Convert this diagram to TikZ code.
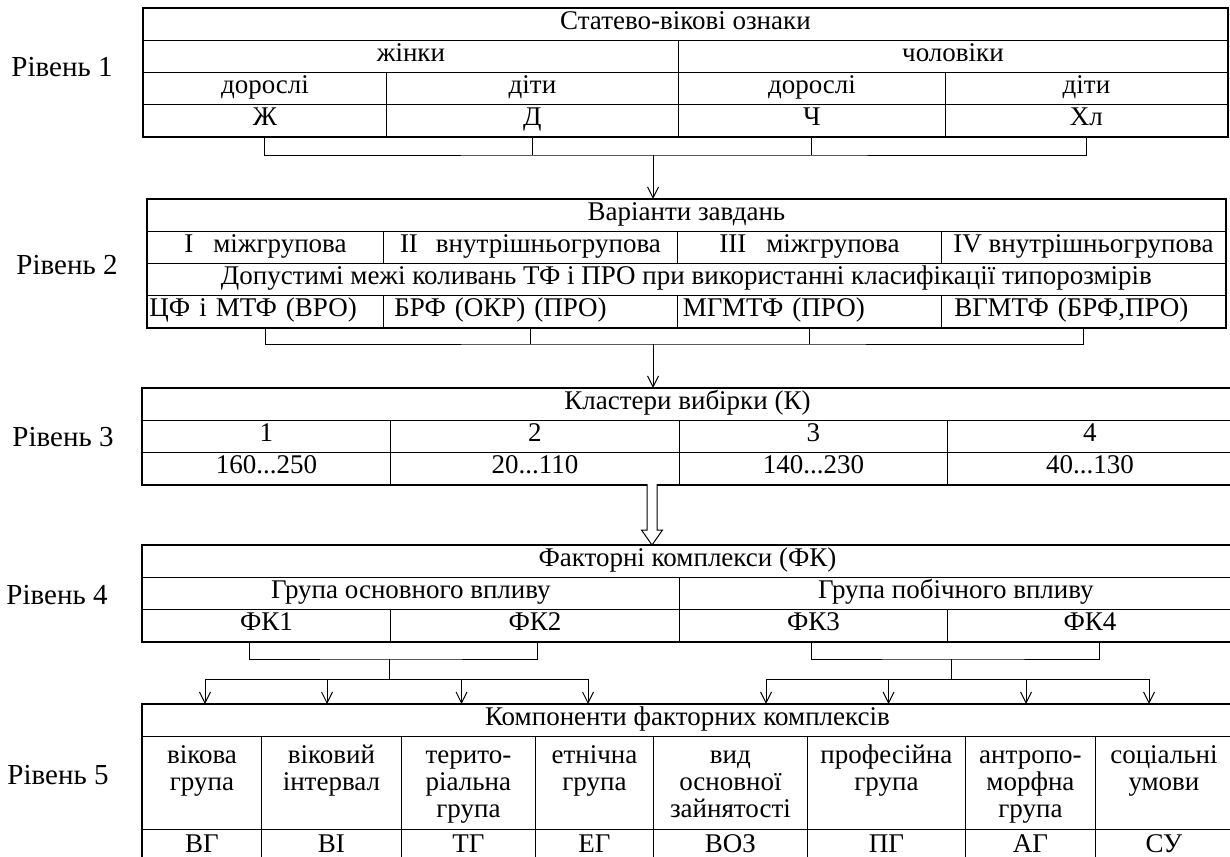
\documentclass[tikz,border=0pt]{standalone}
\usepackage{fontspec}
\setmainfont{Liberation Serif}
\usetikzlibrary{arrows.meta}

\newcommand{\tallbox}[2]{\parbox[c][93pt][t]{#1}{\centering\rule{0pt}{27pt}#2}}

\tikzset{
	cell/.style={shape=rectangle, draw=black, line width=0.9pt, anchor=north west, inner sep=0pt, minimum height=32pt, text height=18pt, text depth=8pt},
	lcell/.style 2 args={cell, align=left, inner xsep=#2, text width=#1},
	tall/.style={shape=rectangle, draw=black, line width=0.9pt, anchor=north west, inner sep=0pt, minimum height=93pt},
	frame/.style={draw=black, line width=2pt},
	conn/.style={draw=black, line width=1pt},
	arr/.style={conn, -{Straight Barb[length=11pt,width=11pt]}},
	hollow/.style={draw=black, line width=1pt, fill=white},
	lvl/.style={font=\fontsize{29}{31}\selectfont}
}

\begin{document}
\begin{tikzpicture}[x=1pt, y=-1pt, font=\fontsize{27}{27}\selectfont]
			\useasboundingbox (0,0) rectangle (1230,856);
			%Level labels:
			\path
				(62,67) node[lvl] (lv1) {Рівень 1}
				(67,265) node[lvl] (lv2) {Рівень 2}
				(63,437) node[lvl] (lv3) {Рівень 3}
				(57,595) node[lvl] (lv4) {Рівень 4}
				(58,775) node[lvl] (lv5) {Рівень 5};
			%Level 1:
			\path
				(143,8) node[cell, minimum width=1084pt] (ozn) {Статево-вікові ознаки}
				(143,40) node[cell, minimum width=535pt] (zhin) {жінки}
				(678,40) node[cell, minimum width=549pt] (chol) {чоловіки}
				(143,72) node[cell, minimum width=243pt] (dor1) {дорослі}
				(386,72) node[cell, minimum width=292pt] (dit1) {діти}
				(678,72) node[cell, minimum width=267pt] (dor2) {дорослі}
				(945,72) node[cell, minimum width=282pt] (dit2) {діти}
				(143,104) node[cell, minimum width=243pt] (zh) {Ж}
				(386,104) node[cell, minimum width=292pt] (d) {Д}
				(678,104) node[cell, minimum width=267pt] (ch) {Ч}
				(945,104) node[cell, minimum width=282pt] (khl) {Хл};
			\draw[frame] (ozn.north west) rectangle (khl.south east);
			%Level 2:
			\path
				(147,199) node[cell, minimum width=1078pt] (var) {Варіанти завдань}
				(147,231) node[cell, minimum width=236pt] (v1) {I\hspace{20pt}міжгрупова}
				(383,231) node[cell, minimum width=294pt] (v2) {II\hspace{18pt}внутрішньогрупова}
				(677,231) node[cell, minimum width=264pt] (v3) {III\hspace{20pt}міжгрупова}
				(941,231) node[cell, minimum width=284pt] (v4) {IV внутрішньогрупова}
				(147,263) node[cell, minimum width=1078pt] (dop) {Допустимі межі коливань ТФ і ПРО при використанні класифікації типорозмірів}
				(147,295) node[lcell={232pt}{2pt}] (m1) {ЦФ і МТФ (ВРО)}
				(383,295) node[lcell={272pt}{11pt}] (m2) {БРФ (ОКР) (ПРО)}
				(677,295) node[lcell={253pt}{5.5pt}] (m3) {МГМТФ (ПРО)}
				(941,295) node[lcell={258pt}{13pt}] (m4) {ВГМТФ (БРФ,ПРО)};
			\draw[frame] (var.north west) rectangle (m4.south east);
			%Level 3:
			\path
				(142,388) node[cell, minimum width=1090pt] (kl) {Кластери вибірки (К)}
				(142,420) node[cell, minimum width=248pt] (k1) {1}
				(390,420) node[cell, minimum width=289pt] (k2) {2}
				(679,420) node[cell, minimum width=268pt] (k3) {3}
				(947,420) node[cell, minimum width=285pt] (k4) {4}
				(142,452) node[cell, minimum width=248pt] (r1) {160...250}
				(390,452) node[cell, minimum width=289pt] (r2) {20...110}
				(679,452) node[cell, minimum width=268pt] (r3) {140...230}
				(947,452) node[cell, minimum width=285pt] (r4) {40...130};
			\draw[frame] (kl.north west) rectangle (r4.south east);
			%Level 4:
			\path
				(142,545) node[cell, minimum width=1090pt] (fk) {Факторні комплекси (ФК)}
				(142,577) node[cell, minimum width=537pt] (gosn) {Група основного впливу}
				(679,577) node[cell, minimum width=553pt] (gpob) {Група побічного впливу}
				(142,609) node[cell, minimum width=248pt] (fk1) {ФК1}
				(390,609) node[cell, minimum width=289pt] (fk2) {ФК2}
				(679,609) node[cell, minimum width=268pt] (fk3) {ФК3}
				(947,609) node[cell, minimum width=285pt] (fk4) {ФК4};
			\draw[frame] (fk.north west) rectangle (fk4.south east);
			%Level 5:
			\path
				(142,704) node[cell, minimum width=1090pt] (komp) {Компоненти факторних комплексів}
				(142,736) node[tall, minimum width=119pt] (c1) {\tallbox{119pt}{вікова\\група}}
				(261,736) node[tall, minimum width=140pt] (c2) {\tallbox{140pt}{віковий\\інтервал}}
				(401,736) node[tall, minimum width=134pt] (c3) {\tallbox{134pt}{терито-\\ріальна\\група}}
				(535,736) node[tall, minimum width=118pt] (c4) {\tallbox{118pt}{етнічна\\група}}
				(653,736) node[tall, minimum width=154pt] (c5) {\tallbox{154pt}{вид\\основної\\зайнятості}}
				(807,736) node[tall, minimum width=158pt] (c6) {\tallbox{158pt}{професійна\\група}}
				(965,736) node[tall, minimum width=130pt] (c7) {\tallbox{130pt}{антропо-\\морфна\\група}}
				(1095,736) node[tall, minimum width=137pt] (c8) {\tallbox{137pt}{соціальні\\умови}}
				(142,829) node[cell, minimum width=119pt, minimum height=36pt] (a1) {ВГ}
				(261,829) node[cell, minimum width=140pt, minimum height=36pt] (a2) {ВІ}
				(401,829) node[cell, minimum width=134pt, minimum height=36pt] (a3) {ТГ}
				(535,829) node[cell, minimum width=118pt, minimum height=36pt] (a4) {ЕГ}
				(653,829) node[cell, minimum width=154pt, minimum height=36pt] (a5) {ВОЗ}
				(807,829) node[cell, minimum width=158pt, minimum height=36pt] (a6) {ПГ}
				(965,829) node[cell, minimum width=130pt, minimum height=36pt] (a7) {АГ}
				(1095,829) node[cell, minimum width=137pt, minimum height=36pt] (a8) {СУ};
			\draw[frame] (komp.north west) rectangle (a8.south east);
			%Level 1 to level 2:
			\coordinate (j1) at (653,155);
			\draw[conn] (zh.south) |- (j1) -| (khl.south);
			\draw[conn] (d.south) -- (d.south |- j1);
			\draw[conn] (ch.south) -- (ch.south |- j1);
			\draw[arr] (j1) -- (j1 |- var.north);
			%Level 2 to level 3:
			\coordinate (j2) at (653,344);
			\draw[conn] (m1.south) |- (j2) -| (m4.south);
			\draw[conn] (m2.south) -- (m2.south |- j2);
			\draw[conn] (m3.south) -- (m3.south |- j2);
			\draw[arr] (j2) -- (j2 |- kl.north);
			%Level 3 to level 4:
			\coordinate (da) at (652,484);
			\draw[hollow] (da) ++(-5,0) -- ++(0,46) -- ++(-5.5,0) -- ++(10.5,15) -- ++(10.5,-15) -- ++(-5.5,0) -- ++(0,-46);
			%Level 4 to level 5:
			\coordinate (tl) at (389,659);
			\coordinate (bl) at (389,679);
			\coordinate (tr) at (951,659);
			\coordinate (br) at (951,679);
			\draw[conn] ([xshift=-17pt]fk1.south) |- (tl) -| ([xshift=2.5pt]fk2.south);
			\draw[conn] (tl) -- (bl);
			\draw[conn] ([xshift=-2pt]fk3.south) |- (tr) -| ([xshift=9.5pt]fk4.south);
			\draw[conn] (tr) -- (br);
			\coordinate (al1) at (205,679);
			\coordinate (al2) at (327,679);
			\coordinate (al3) at (461.5,679);
			\coordinate (al4) at (588,679);
			\coordinate (ar1) at (766,679);
			\coordinate (ar2) at (888.5,679);
			\coordinate (ar3) at (1026,679);
			\coordinate (ar4) at (1149,679);
			\draw[conn] (al1) -- (al4);
			\draw[conn] (ar1) -- (ar4);
			\draw[arr] (al1) -- (al1 |- komp.north);
			\draw[arr] (al2) -- (al2 |- komp.north);
			\draw[arr] (al3) -- (al3 |- komp.north);
			\draw[arr] (al4) -- (al4 |- komp.north);
			\draw[arr] (ar1) -- (ar1 |- komp.north);
			\draw[arr] (ar2) -- (ar2 |- komp.north);
			\draw[arr] (ar3) -- (ar3 |- komp.north);
			\draw[arr] (ar4) -- (ar4 |- komp.north);
\end{tikzpicture}
\end{document}
